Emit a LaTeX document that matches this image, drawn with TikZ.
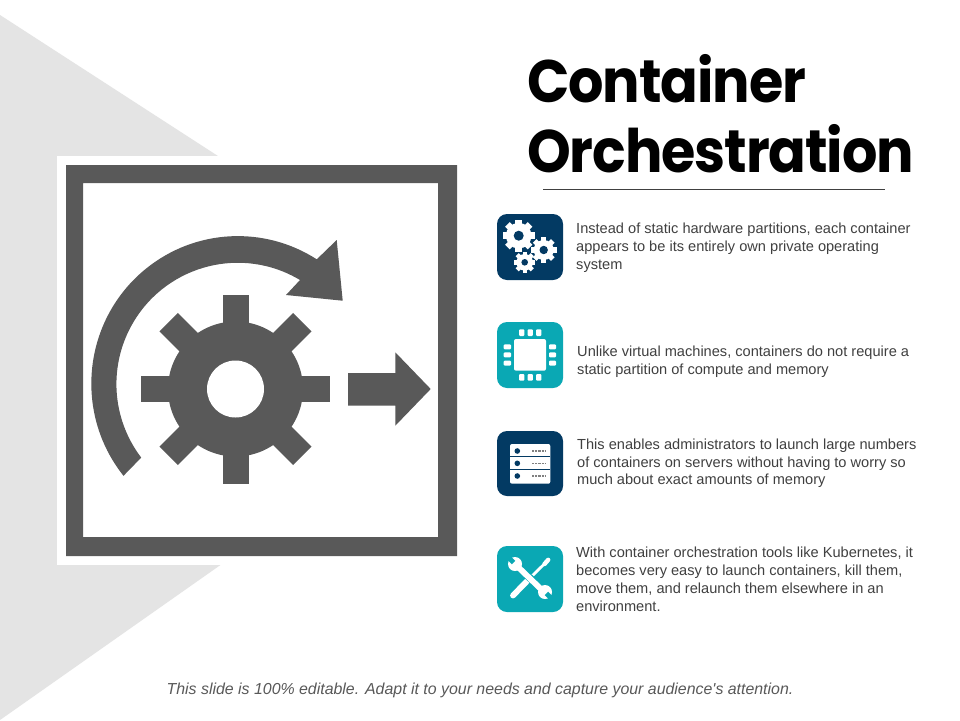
\documentclass[tikz,border=0pt]{standalone}
\usepackage{fontspec}
\setmainfont{Liberation Sans}
\newfontfamily\footfont{Liberation Sans}
\newfontfamily\titlefont[LetterSpace=-2.0]{Poppins}
\definecolor{fggray}{HTML}{595959}
\definecolor{bgtri}{HTML}{E4E4E4}
\definecolor{navy}{HTML}{033A63}
\definecolor{teal2}{HTML}{0AA8B4}
\definecolor{bodytxt}{HTML}{404040}
\definecolor{foottxt}{HTML}{595959}
\tikzset{
  iconbox/.style={rounded corners=10pt,minimum width=66pt,minimum height=66pt,inner sep=0pt,draw=none},
  bodytext/.style={anchor=north west,inner sep=0pt,align=left,text=bodytxt,font=\fontsize{14.6}{17.8}\selectfont},
  titletext/.style={anchor=north west,inner sep=0pt,align=left,text=black,xscale=0.927,transform shape,font=\titlefont\fontsize{60}{70}\selectfont\bfseries},
}
% gear: x, y, body radius, outer radius, tooth width, hole radius, hole colour, tooth start angle
\newcommand{\mygear}[8]{%
  \foreach \ga in {0,45,...,315}{
    \fill[white,shift={(#1,#2)},rotate=\ga+#8] (-#5/2,0) rectangle (#5/2,#4);
  }
  \fill[white] (#1,#2) circle[radius=#3];
  \fill[#7] (#1,#2) circle[radius=#6];
}
\begin{document}
\begin{tikzpicture}[x=1pt,y=-1pt]
\useasboundingbox (0,0) rectangle (960,720);
\fill[white] (0,0) rectangle (960,720);
\fill[bgtri] (0,15) -- (320,222) -- (320,495) -- (0,720) -- cycle;
\fill[white] (57,156) rectangle (457,565);
\fill[fggray,even odd rule] (66,165) rectangle (457,556) (83,183) rectangle (438,537);
% circular arrow
\coordinate (arcstart) at (123.5,475.8);
\coordinate (headtop) at (336.7,240);
\coordinate (headright) at (342.7,300.7);
\coordinate (headleft) at (286,295);
\coordinate (innerstart) at (300,280);
\fill[fggray] (arcstart) arc[start angle=218.7,end angle=57.4,x radius=146.5pt,y radius=147.5pt] -- (headtop) -- (headright) -- (headleft) -- (innerstart) arc[start angle=59.1,end angle=217.3,radius=121.3pt] -- cycle;
% big gear
\foreach \ga in {0,45,...,315}{
  \fill[fggray,shift={(235.5,389)},rotate=\ga] (-13,0) rectangle (13,94.5);
}
\fill[fggray] (235.5,389) circle[radius=67.5pt];
\fill[white] (235.5,389) circle[radius=28.5pt];
% straight arrow
\fill[fggray] (348,373) -- (395.3,373) -- (395.3,352.3) -- (430.7,389) -- (395.3,425.7) -- (395.3,405.7) -- (348,405.7) -- cycle;
% title
\node[titletext] (title) at (527,54) {Container\\Orchestration};
\coordinate (ruleL) at (543,189);
\coordinate (ruleR) at (885,189);
\draw[black!75,line width=0.6pt] (ruleL) -- (ruleR);
% icon boxes
\node[iconbox,fill=navy] (icona) at (530,247) {};
\node[iconbox,fill=teal2] (iconb) at (530,355) {};
\node[iconbox,fill=navy,minimum height=65pt] (iconc) at (530,463.5) {};
\node[iconbox,fill=teal2] (icond) at (530,579) {};
% gears icon
\mygear{518.7}{235.7}{12.8}{16}{6.5}{5}{navy}{0}
\mygear{543.7}{250}{10}{12.8}{5.2}{4.2}{navy}{0}
\mygear{524.7}{262.3}{8.3}{10.7}{4.4}{3.3}{navy}{0}
% chip icon
\fill[white,rounded corners=2pt] (514,339) rectangle (546,370.7);
\foreach \px in {519,527.5,536}{
  \fill[white,rounded corners=1pt] (\px,329.3) rectangle (\px+5.3,336);
  \fill[white,rounded corners=1pt] (\px,374) rectangle (\px+5.3,380.7);
}
\foreach \py in {344.3,352.3,360.7}{
  \fill[white,rounded corners=1pt] (503.7,\py) rectangle (511,\py+5);
  \fill[white,rounded corners=1pt] (549,\py) rectangle (556,\py+5);
}
% server icon
\fill[white,rounded corners=2pt] (510,444) rectangle (550.3,483.7);
\draw[navy,line width=0.9pt] (510,456.7) -- (550.3,456.7) (510,469.7) -- (550.3,469.7);
\foreach \py in {451,463.3,476}{
  \fill[navy] (517.3,\py) circle[radius=2.8pt];
  \draw[gray,line width=1.6pt,dash pattern=on 0.7pt off 0.7pt] (532,\py) -- (545,\py);
}
% tools icon
\draw[white,line width=4.4pt,line cap=round] (548.2,559.8) -- (544.5,564);
\draw[white,line width=2.8pt] (546,562.3) -- (530,578);
\draw[white,line width=5.8pt,line cap=round] (531,577) -- (513,595.5);
\draw[teal2,line width=7.5pt] (522,571) -- (538,585);
\draw[white,line width=5.8pt,line cap=round] (517,566) -- (544,592);
\fill[white] (515,564) circle[radius=7pt];
\fill[white] (545,592) circle[radius=7pt];
\fill[teal2,shift={(515,564)},rotate=45] (-2.4,-9) rectangle (2.4,-2);
\fill[teal2,shift={(545,592)},rotate=45] (-2.4,2) rectangle (2.4,9);
% texts
\node[bodytext] (ta) at (576,223) {Instead of static hardware partitions, each container\\appears to be its entirely own private operating\\system};
\node[bodytext] (tb) at (577,345.5) {Unlike virtual machines, containers do not require a\\static partition of compute and memory};
\node[bodytext] (tc) at (577,438.5) {This enables administrators to launch large numbers\\of containers on servers without having to worry so\\much about exact amounts of memory};
\node[bodytext] (td) at (576,547) {With container orchestration tools like Kubernetes, it\\becomes very easy to launch containers, kill them,\\move them, and relaunch them elsewhere in an\\environment.};
\node[anchor=north,inner sep=0pt,text=foottxt,font=\footfont\fontsize{15.9}{18}\selectfont\itshape] (foot) at (480,682.7) {This slide is 100\% editable. Adapt it to your needs and capture your audience's attention.};
\end{tikzpicture}
\end{document}
